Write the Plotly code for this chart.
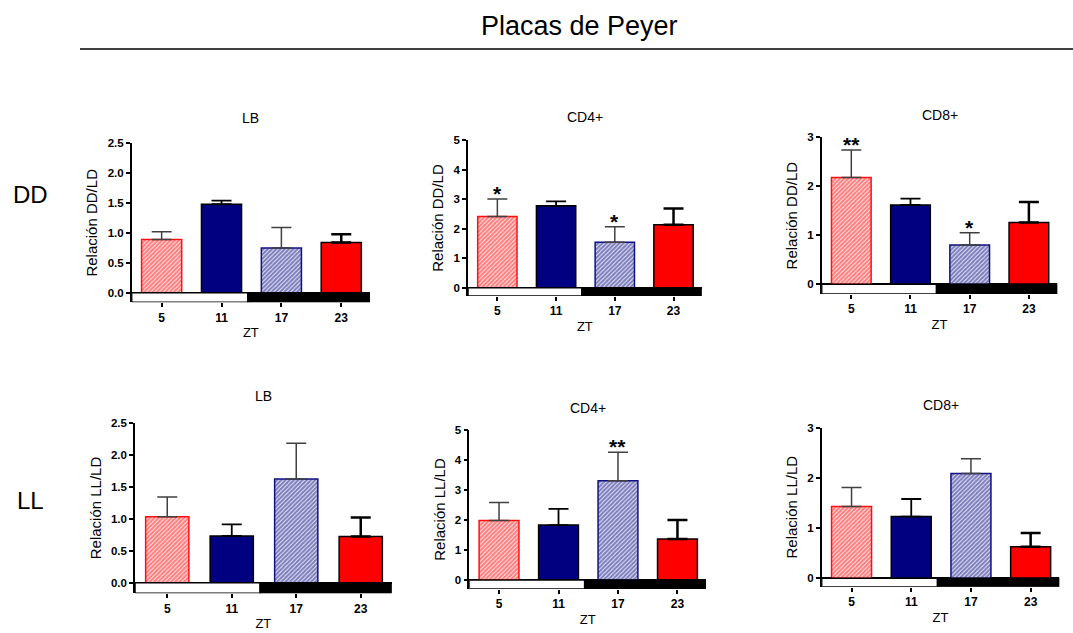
import plotly.graph_objects as go

# ZT sampling times (categories on every x axis)
zt = ["5", "11", "17", "23"]

# Mean ratio and SEM for each panel
dd_lb_mean = [0.89, 1.48, 0.75, 0.84]
dd_lb_sem = [0.13, 0.06, 0.34, 0.14]
dd_cd4_mean = [2.41, 2.77, 1.54, 2.13]
dd_cd4_sem = [0.59, 0.15, 0.52, 0.55]
dd_cd8_mean = [2.18, 1.62, 0.80, 1.26]
dd_cd8_sem = [0.56, 0.13, 0.25, 0.42]
ll_lb_mean = [1.03, 0.73, 1.62, 0.72]
ll_lb_sem = [0.31, 0.18, 0.56, 0.30]
ll_cd4_mean = [1.98, 1.83, 3.31, 1.37]
ll_cd4_sem = [0.60, 0.54, 0.95, 0.63]
ll_cd8_mean = [1.43, 1.23, 2.09, 0.63]
ll_cd8_sem = [0.38, 0.35, 0.29, 0.27]

# Significance marks per bar
dd_cd4_sig = ["*", "", "*", ""]
dd_cd8_sig = ["**", "", "*", ""]
ll_cd4_sig = ["", "", "**", ""]
no_sig = ["", "", "", ""]

panel_titles = ["LB", "CD4+", "CD8+", "LB", "CD4+", "CD8+"]
y_titles = ["Relación DD/LD"] * 3 + ["Relación LL/LD"] * 3
y_max = [2.5, 5, 3, 2.5, 5, 3]
y_ticks = [
    [0.0, 0.5, 1.0, 1.5, 2.0, 2.5],
    [0, 1, 2, 3, 4, 5],
    [0, 1, 2, 3],
    [0.0, 0.5, 1.0, 1.5, 2.0, 2.5],
    [0, 1, 2, 3, 4, 5],
    [0, 1, 2, 3],
]
y_ticktext = [
    ["0.0", "0.5", "1.0", "1.5", "2.0", "2.5"],
    ["0", "1", "2", "3", "4", "5"],
    ["0", "1", "2", "3"],
    ["0.0", "0.5", "1.0", "1.5", "2.0", "2.5"],
    ["0", "1", "2", "3", "4", "5"],
    ["0", "1", "2", "3"],
]

panels = [
    (dd_lb_mean, dd_lb_sem, no_sig),
    (dd_cd4_mean, dd_cd4_sem, dd_cd4_sig),
    (dd_cd8_mean, dd_cd8_sem, dd_cd8_sig),
    (ll_lb_mean, ll_lb_sem, no_sig),
    (ll_cd4_mean, ll_cd4_sem, ll_cd4_sig),
    (ll_cd8_mean, ll_cd8_sem, no_sig),
]

# Panel frames in pixels: x left/right, y of top tick, y of zero, y of light bar bottom
W, H = 1073, 633
frames = [
    (131.7, 370.0, 143.3, 292.7, 302.3),
    (468.0, 701.7, 140.0, 287.7, 296.0),
    (821.7, 1057.3, 137.3, 284.3, 294.0),
    (135.0, 391.7, 422.7, 582.7, 593.3),
    (469.3, 706.0, 430.0, 580.0, 589.0),
    (821.7, 1059.3, 427.7, 578.3, 586.7),
]
# Vertical centre of each panel heading, in pixels
title_y = [118, 116.5, 115, 396, 407.5, 405]

X_LO, X_HI, LIGHT_END = -0.5, 3.48, 1.44
FONT = "Liberation Sans, Arial, sans-serif"

# Bar styles: hatched red, solid navy, hatched navy, solid red
bar_styles = [
    dict(color="white", pattern=dict(shape="/", fgcolor="#FF0000", bgcolor="white", size=3, solidity=0.75),
         line=dict(color="#FF1010", width=1.5), err_color="#404040", err_w=1.5),
    dict(color="#000080", pattern=None, line=dict(color="#000000", width=1.5),
         err_color="#000000", err_w=1.8),
    dict(color="white", pattern=dict(shape="/", fgcolor="#000080", bgcolor="white", size=3, solidity=0.75),
         line=dict(color="#101080", width=1.5), err_color="#404040", err_w=1.5),
    dict(color="#FF0000", pattern=None, line=dict(color="#000000", width=1.5),
         err_color="#000000", err_w=2.5),
]

fig = go.Figure()
shapes = []
annotations = []

for p, (means, sems, sigs) in enumerate(panels):
    k = p + 1
    xa = "x" if k == 1 else f"x{k}"
    ya = "y" if k == 1 else f"y{k}"
    xl, xr, ytop, yzero, ybot = frames[p]
    ymin = -(ybot - yzero) / (yzero - ytop) * y_max[p]

    for i in range(4):
        st = bar_styles[i]
        marker = dict(color=st["color"], line=st["line"])
        if st["pattern"] is not None:
            marker["pattern"] = st["pattern"]
        fig.add_trace(go.Bar(
            x=[zt[i]], y=[means[i]], width=0.67,
            marker=marker,
            error_y=dict(type="data", array=[sems[i]], arrayminus=[0], symmetric=False,
                         color=st["err_color"], thickness=st["err_w"], width=10),
            xaxis=xa, yaxis=ya, showlegend=False, cliponaxis=False,
        ))
        if sigs[i]:
            annotations.append(dict(
                x=i, y=means[i] + sems[i], xref=xa, yref=ya,
                text=f"<b>{sigs[i]}</b>", showarrow=False,
                xanchor="center", yanchor="bottom", yshift=-8,
                font=dict(family=FONT, size=21, color="#000"),
            ))

    # Light/dark bar under the zero line
    shapes.append(dict(type="rect", xref=xa, yref=ya, x0=X_LO, x1=LIGHT_END, y0=ymin, y1=0,
                       fillcolor="white", line=dict(color="black", width=1.5), layer="above"))
    shapes.append(dict(type="rect", xref=xa, yref=ya, x0=LIGHT_END, x1=X_HI, y0=ymin, y1=0,
                       fillcolor="black", line=dict(color="black", width=1.5), layer="above"))

    xdom = [xl / W, xr / W]
    ydom = [1 - ybot / H, 1 - ytop / H]
    xkey = "xaxis" if k == 1 else f"xaxis{k}"
    ykey = "yaxis" if k == 1 else f"yaxis{k}"
    fig.update_layout(**{
        xkey: dict(domain=xdom, anchor=ya, type="category", categoryorder="array",
                   categoryarray=zt, range=[X_LO, X_HI], showline=False, automargin=False,
                   ticks="outside", ticklen=4, tickcolor="black", tickwidth=1.5,
                   tickfont=dict(family=FONT, size=12, color="black", weight="bold"),
                   showgrid=False, zeroline=False, fixedrange=True,
                   title=dict(text="ZT", font=dict(family=FONT, size=13, color="black"), standoff=4)),
        ykey: dict(domain=ydom, anchor=xa, range=[ymin, y_max[p]], tickmode="array",
                   tickvals=y_ticks[p], ticktext=y_ticktext[p], showline=True, automargin=False,
                   linecolor="black", linewidth=1.5, ticks="outside", ticklen=4,
                   tickcolor="black", tickwidth=1.5,
                   tickfont=dict(family=FONT, size=11.5, color="black", weight="bold"),
                   showgrid=False, zeroline=True, zerolinecolor="black", zerolinewidth=1.5,
                   fixedrange=True,
                   title=dict(text=y_titles[p], font=dict(family=FONT, size=15, color="black"),
                              standoff=6)),
    })

    annotations.append(dict(
        x=(xl + xr) / 2 / W, y=1 - title_y[p] / H, xref="paper", yref="paper",
        text=panel_titles[p], showarrow=False, xanchor="center", yanchor="middle",
        font=dict(family=FONT, size=14, color="black"),
    ))

# Figure heading, rule and row labels
annotations.append(dict(x=579 / W, y=1 - 26 / H, xref="paper", yref="paper", text="Placas de Peyer",
                        showarrow=False, xanchor="center", yanchor="middle",
                        font=dict(family=FONT, size=27, color="black")))
annotations.append(dict(x=30 / W, y=1 - 194 / H, xref="paper", yref="paper", text="DD",
                        showarrow=False, xanchor="center", yanchor="middle",
                        font=dict(family=FONT, size=24, color="black")))
annotations.append(dict(x=30 / W, y=1 - 500 / H, xref="paper", yref="paper", text="LL",
                        showarrow=False, xanchor="center", yanchor="middle",
                        font=dict(family=FONT, size=24, color="black")))
shapes.append(dict(type="line", xref="paper", yref="paper", x0=80 / W, x1=1.0,
                   y0=1 - 49 / H, y1=1 - 49 / H, line=dict(color="black", width=1.5)))

fig.update_layout(
    width=W, height=H, margin=dict(l=0, r=0, t=0, b=0, autoexpand=False),
    paper_bgcolor="white", plot_bgcolor="white",
    barmode="overlay", shapes=shapes, annotations=annotations,
    font=dict(family=FONT, color="black"),
)

fig.write_html("out.html")
